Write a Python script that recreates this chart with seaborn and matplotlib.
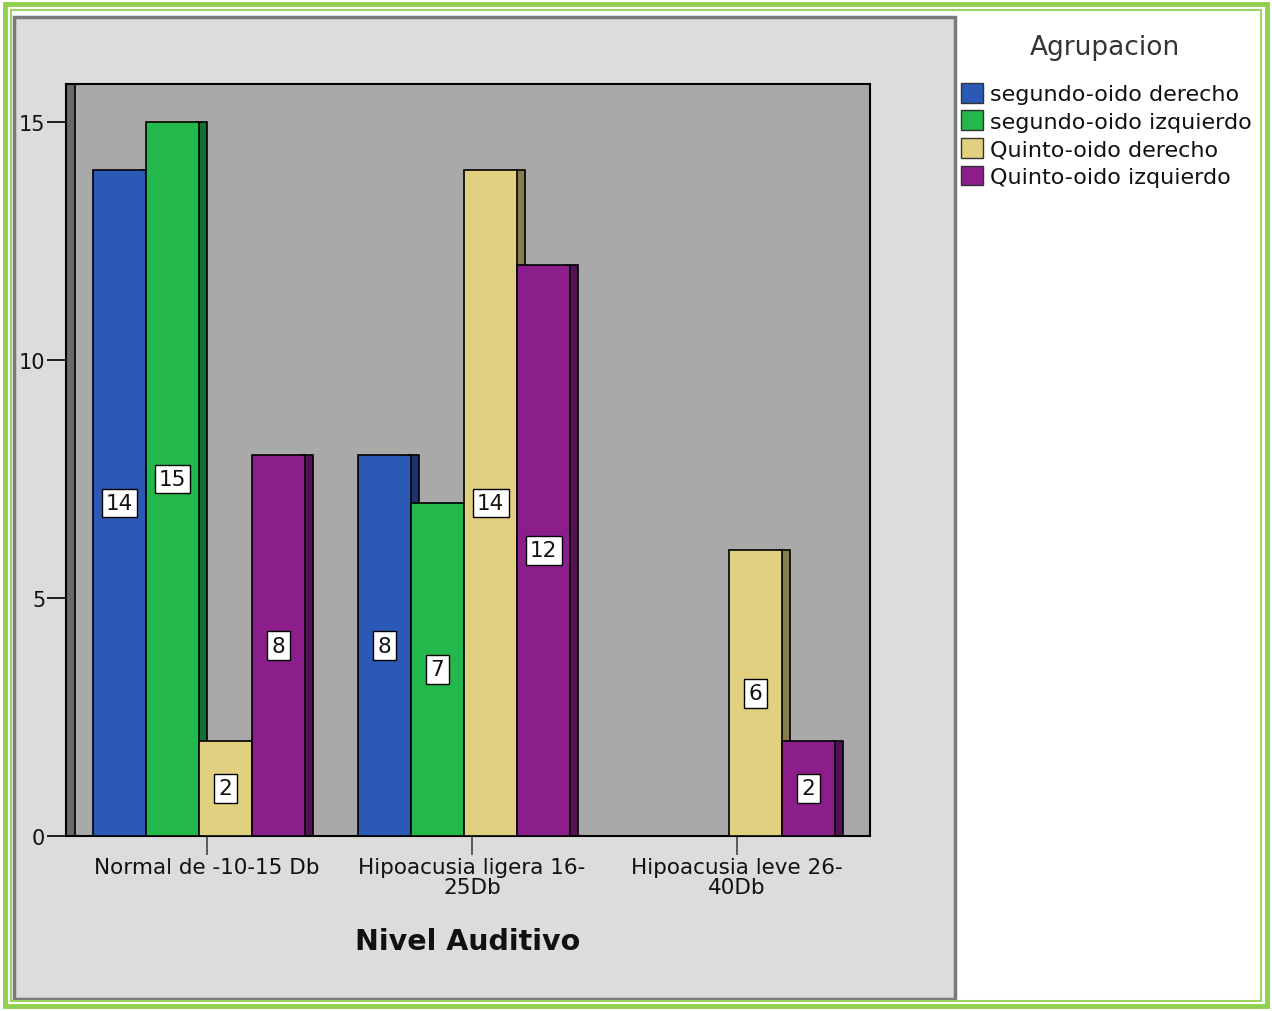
import pandas as pd
import matplotlib
matplotlib.use("Agg")
import matplotlib.pyplot as plt
import matplotlib.colors as mcolors
from matplotlib.patches import Rectangle, Patch
import seaborn as sns

# data
niveles = ["Normal de -10-15 Db", "Hipoacusia ligera 16-\n25Db", "Hipoacusia leve 26-\n40Db"]
grupos = ["segundo-oido derecho", "segundo-oido izquierdo", "Quinto-oido derecho", "Quinto-oido izquierdo"]
seg_der = [14, 8, 0]
seg_izq = [15, 7, 0]
qui_der = [2, 14, 6]
qui_izq = [8, 12, 2]
colores = ["#2b59b6", "#22b84c", "#e1d07f", "#8c1e8c"]

rows = []
for g, vals in zip(grupos, [seg_der, seg_izq, qui_der, qui_izq]):
    for n, v in zip(niveles, vals):
        rows.append({"Nivel": n, "Agrupacion": g, "Recuento": v})
df = pd.DataFrame(rows)

sns.set_style("white")
plt.rcParams["font.family"] = ["DejaVu Sans"]
plt.rcParams["text.color"] = "#111111"
plt.rcParams["axes.labelcolor"] = "#111111"
plt.rcParams["xtick.color"] = "#111111"
plt.rcParams["ytick.color"] = "#111111"

W, H = 1272, 1012
fig = plt.figure(figsize=(W / 100, H / 100), dpi=100, facecolor="white")

def fx(px):
    return px / W

def fy(py):
    return 1 - py / H

# background panels (frame, gray chart panel)
fig.patches.append(Rectangle((fx(14), fy(1000)), fx(941), 982 / H, transform=fig.transFigure,
                             facecolor="#dcdcdc", edgecolor="#7a7a7a", linewidth=2.5, zorder=-2))
fig.patches.append(Rectangle((fx(5), fy(1007)), fx(1262), 1002 / H, transform=fig.transFigure,
                             facecolor="none", edgecolor="#8fd04e", linewidth=3.5, zorder=-2))
fig.patches.append(Rectangle((fx(11), fy(1002)), fx(1250), 991 / H, transform=fig.transFigure,
                             facecolor="none", edgecolor="#9ad65e", linewidth=1.5, zorder=-2))

ax = fig.add_axes([fx(66), fy(837), fx(870 - 66), (837 - 85) / H])
ax.set_facecolor("#a9a9a9")

sns.barplot(data=df, x="Nivel", y="Recuento", hue="Agrupacion", palette=colores,
            saturation=1, width=0.8, edgecolor="black", linewidth=1.2, ax=ax, zorder=3)

depth = 0.03
for bar in list(ax.patches):
    h = bar.get_height()
    if h <= 0:
        bar.set_visible(False)
        continue
    x0 = bar.get_x()
    w = bar.get_width()
    fc = mcolors.to_rgb(bar.get_facecolor())
    dark = tuple(c * 0.6 for c in fc)
    ax.add_patch(Rectangle((x0 + w - 0.01, 0), depth + 0.01, h, facecolor=dark,
                           edgecolor="black", linewidth=1.2, zorder=2))
    ax.text(x0 + w / 2, h / 2, f"{int(h)}", ha="center", va="center", fontsize=15.5,
            zorder=5, bbox=dict(boxstyle="square,pad=0.2", facecolor="white",
                                edgecolor="black", linewidth=1))

left = -0.4 - 18 / 265
xmin = left - 9 / 265
ax.set_xlim(xmin, 2.4 + 18 / 265 + 0.064)
ax.set_ylim(0, 15.8)
ax.axvspan(xmin, left, facecolor="#6a6a6a", edgecolor="black", linewidth=1.2, zorder=1)

ax.set_xticks([i + depth for i in range(len(niveles))])
ax.set_xticklabels(niveles, fontsize=15.5, linespacing=1.0)
ax.set_yticks([0, 5, 10, 15])
ax.set_yticklabels(["0", "5", "10", "15"], fontsize=15)
ax.tick_params(axis="x", direction="out", length=14, width=1.2, color="#444444", pad=1, bottom=True)
ax.tick_params(axis="y", direction="out", length=14, width=1.2, color="black", pad=1, left=True)
for s in ax.spines.values():
    s.set_color("black")
    s.set_linewidth(1.5)
ax.set_xlabel("Nivel Auditivo", fontsize=20.5, fontweight="bold", labelpad=22)
ax.set_ylabel("")

ax.get_legend().remove()
fig.text(fx(1105), fy(48), "Agrupacion", ha="center", va="center", fontsize=19, color="#333333")
handles = [Patch(facecolor=c, edgecolor="#333333", linewidth=1) for c in colores]
leg = fig.legend(handles, grupos, loc="upper left", bbox_to_anchor=(fx(952), fy(75)),
                 frameon=False, fontsize=16, handlelength=1.0, handleheight=1.0,
                 handletextpad=0.3, labelspacing=0.27, borderaxespad=0)

fig.savefig("out.png", dpi=100, facecolor="white")
